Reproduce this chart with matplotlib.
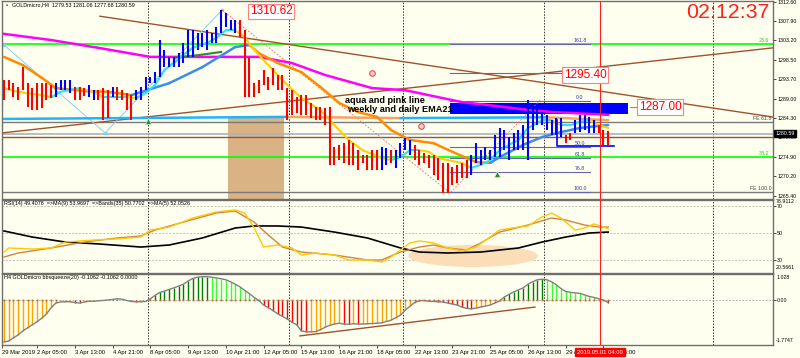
import matplotlib
matplotlib.use("Agg")
import matplotlib.pyplot as plt
from matplotlib.patches import Rectangle, Ellipse

W, H = 800, 358
BG = "#FFFFF0"
plt.rcParams["font.family"] = ["Liberation Sans", "DejaVu Sans"]

# ---------------- data ----------------
bar_high = [1293.6, 1293.6, 1292.9, 1291.9, 1296.7, 1292.9, 1291.6, 1292.9, 1292.9, 1292.9,
            1292.4, 1292.9, 1293.6, 1293.6, 1293.6, 1291.9, 1291.9, 1291.6, 1292.4, 1291.1,
            1291.1, 1291.6, 1291.1, 1291.9, 1291.9, 1291.1, 1290.4, 1289.9, 1291.1, 1291.9,
            1294.3, 1294.3, 1295.5, 1303.3, 1300.9, 1299.2, 1299.2, 1300.2, 1302.6, 1305.7,
            1305.7, 1305.0, 1305.0, 1305.7, 1305.0, 1306.5, 1310.6, 1309.9, 1308.2, 1308.2,
            1308.2, 1305.7, 1299.2, 1292.9, 1293.6, 1296.0, 1294.3, 1296.5, 1294.8, 1294.8,
            1291.6, 1291.1, 1289.4, 1289.9, 1289.9, 1288.0, 1287.0, 1287.0, 1286.8, 1287.0,
            1277.3, 1277.8, 1278.3, 1279.0, 1278.3, 1276.5, 1275.3, 1275.3, 1276.5, 1276.5,
            1277.3, 1277.0, 1276.5, 1276.5, 1278.3, 1279.5, 1279.0, 1277.8, 1276.5, 1275.8,
            1275.3, 1275.3, 1274.6, 1273.4, 1273.4, 1272.4, 1272.9, 1273.4, 1274.1, 1275.3,
            1278.3, 1276.5, 1277.3, 1276.5, 1280.2, 1281.9, 1281.4, 1279.7, 1280.7, 1281.4,
            1282.6, 1288.7, 1288.0, 1286.8, 1285.8, 1285.1, 1283.8, 1284.3, 1284.3, 1280.2,
            1280.7, 1283.8, 1285.1, 1285.1, 1284.6, 1283.8, 1282.6, 1281.4, 1281.06]
bar_low = [1288.7, 1291.1, 1289.4, 1288.7, 1291.1, 1287.0, 1286.3, 1286.3, 1286.8, 1288.7,
           1289.2, 1289.4, 1291.1, 1291.1, 1290.4, 1288.7, 1288.7, 1289.7, 1289.4, 1288.7,
           1288.7, 1283.8, 1284.3, 1289.4, 1288.7, 1288.7, 1286.3, 1283.8, 1288.7, 1288.7,
           1291.1, 1292.9, 1292.9, 1294.3, 1296.7, 1296.7, 1296.7, 1296.7, 1297.7, 1299.2,
           1299.2, 1300.9, 1301.6, 1300.9, 1302.6, 1302.6, 1305.0, 1306.5, 1305.7, 1305.0,
           1304.0, 1289.4, 1289.4, 1289.4, 1290.4, 1292.4, 1291.1, 1292.4, 1291.1, 1291.1,
           1283.8, 1285.1, 1285.5, 1285.1, 1285.1, 1284.3, 1283.8, 1283.8, 1282.6, 1272.9,
           1272.9, 1274.1, 1273.4, 1272.9, 1272.9, 1271.7, 1273.4, 1271.7, 1271.7, 1271.7,
           1271.7, 1272.9, 1273.4, 1272.2, 1274.6, 1276.5, 1275.3, 1274.1, 1272.9, 1273.4,
           1272.2, 1270.5, 1269.2, 1266.1, 1266.1, 1268.0, 1268.5, 1269.7, 1269.7, 1270.5,
           1273.4, 1272.9, 1274.1, 1274.1, 1274.8, 1274.8, 1276.5, 1274.1, 1276.5, 1276.5,
           1276.5, 1274.1, 1281.4, 1282.6, 1282.6, 1281.4, 1280.2, 1280.2, 1279.7, 1278.3,
           1279.0, 1280.7, 1280.9, 1281.4, 1280.7, 1280.7, 1280.7, 1277.8, 1277.68]
bar_dir = ("ddddddddddd" "uuuu" "ddd" "uu" "ddd" "u" "dddd"
           "uuuuuuuuuuuuuuuuuuuuuu"
           "dddddddddddddddddddddddddddddd"
           "uu" "d" "uuuu" "dddddddddddd"
           "uuuuuuuuuuuuuuuuuuuu" "dd" "uuuuu" "ddd")

magenta_idx = [0, 10, 20, 31, 41, 54, 61, 68, 78, 85, 92, 97, 104, 111, 116, 128]
magenta_val = [1304.8, 1303.3, 1301.4, 1299.2, 1299.2, 1299.2, 1297.7, 1294.8, 1291.6,
               1291.1, 1289.4, 1288.2, 1287.3, 1286.3, 1285.8, 1285.1]

fast_idx = [0, 3, 8, 10, 12, 16, 19, 21, 26, 28, 30, 32, 34, 36, 38, 40, 43, 45, 47, 49,
            51, 53, 55, 57, 60, 63, 67, 70, 73, 76, 80, 82, 84, 86, 88, 90, 92, 94, 97, 99,
            101, 103, 105, 107, 109, 111, 114, 116, 118, 120, 122, 124, 126, 128]
fast_val = [1291.6, 1290.7, 1289.9, 1289.4, 1290.7, 1291.6, 1290.7, 1289.4, 1289.4, 1289.2,
            1290.4, 1292.4, 1296.0, 1297.7, 1299.7, 1301.4, 1302.6, 1303.8, 1305.7, 1305.7,
            1304.0, 1300.9, 1298.4, 1296.0, 1292.4, 1289.2, 1286.3, 1282.6, 1279.0, 1276.5,
            1274.6, 1274.1, 1274.8, 1276.5, 1276.5, 1276.1, 1274.6, 1274.1, 1273.4, 1272.2,
            1272.9, 1274.1, 1276.5, 1277.8, 1279.0, 1281.9, 1283.8, 1283.8, 1282.6, 1282.6,
            1283.4, 1283.8, 1282.6, 1281.9]

slow_idx = [0, 4, 8, 11, 17, 22, 27, 35, 42, 49, 52, 54, 58, 63, 67, 71, 75, 79, 82, 86,
            91, 95, 98, 100, 103, 105, 110, 114, 118, 122, 126, 128]
slow_val = [1299.2, 1297.2, 1294.1, 1291.6, 1290.9, 1290.7, 1289.9, 1292.8, 1296.7, 1301.6,
            1302.1, 1300.1, 1297.7, 1295.5, 1291.9, 1288.0, 1285.8, 1284.6, 1281.4, 1279.0,
            1278.2, 1276.1, 1274.6, 1273.6, 1273.4, 1274.8, 1277.8, 1279.7, 1280.9, 1281.9,
            1282.4, 1282.6]

weekly_idx = [0, 60, 84, 115, 128]
weekly_val = [1284.1, 1284.6, 1284.3, 1284.5, 1283.8]

green_idx = [36, 41, 46]
green_val = [1299.0, 1299.6, 1300.4]

hlines_main = {"green_top": 1302.4, "fe618": 1283.36, "grey": 1280.5, "brown": 1279.7,
               "green_382": 1274.84, "fe100": 1266.33}

desc_trend = ([20.3, 162.9], [1309.1, 1284.57])
asc_trend = ([-0.4, 162.9], [1280.7, 1301.4])
zigzag_blue = ([0, 21.4, 46.2], [1302.1, 1280.7, 1310.6])
zigzag_red = ([46.2, 94.5, 113.6], [1310.6, 1266.1, 1288.7])

fibo_levels = ["161.8", "0.0", "50.0", "61.8", "76.8", "100.0"]
fibo_prices = [1302.4, 1288.5, 1277.3, 1274.6, 1271.2, 1266.3]

rsi5_idx = [0, 1, 6, 10, 13, 19, 24, 29, 31, 35, 40, 45, 49, 51, 53, 55, 58, 61, 63, 66,
            70, 73, 77, 80, 82, 84, 86, 88, 91, 94, 97, 100, 103, 105, 109, 111, 114, 116,
            118, 121, 123, 125, 127, 128]
rsi5_val = [35.9, 38.9, 38.1, 38.9, 43.3, 44.8, 45.6, 47.0, 52.2, 54.4, 61.1, 65.6, 67.0,
            64.8, 53.7, 39.6, 41.1, 38.9, 33.7, 35.2, 33.7, 30.0, 30.0, 28.5, 32.2, 37.4,
            42.6, 44.1, 42.6, 38.9, 36.7, 39.6, 47.0, 52.2, 54.4, 55.2, 61.9, 64.8, 61.1,
            52.2, 53.7, 56.7, 54.4, 53.0]
rsi9_idx = [0, 3, 10, 17, 24, 29, 32, 38, 45, 49, 53, 56, 59, 63, 70, 77, 80, 84, 88, 91,
            94, 98, 101, 105, 111, 116, 119, 123, 126, 128]
rsi9_val = [32.2, 35.2, 38.9, 43.3, 46.3, 47.8, 52.2, 58.1, 64.8, 66.3, 58.1, 48.5, 39.6,
            35.9, 33.7, 30.0, 30.0, 35.9, 39.6, 41.1, 38.9, 37.4, 42.6, 50.7, 55.9, 61.1,
            59.6, 55.9, 54.4, 54.4]
bands_idx = [0, 6, 13, 20, 29, 35, 42, 49, 53, 58, 63, 70, 77, 84, 88, 94, 101, 109, 114,
             119, 124, 128]
bands_val = [51.5, 47.0, 43.3, 41.9, 39.6, 41.1, 46.3, 53.7, 55.2, 55.2, 54.4, 50.7, 46.3,
             38.9, 35.9, 35.2, 35.9, 38.9, 43.3, 47.0, 50.0, 50.7]

squeeze = [-1.66, -1.62, -1.50, -1.38, -1.22, -1.10, -0.98, -0.86, -0.72, -0.55,
           -0.30, -0.12, -0.08, -0.07, -0.07, -0.10, -0.12, -0.08, -0.05, -0.05,
           -0.03, -0.02, 0.00, 0.02, 0.05, 0.03, -0.02, -0.06, -0.07, -0.07,
           -0.06, 0.05, 0.18, 0.30, 0.35, 0.42, 0.48, 0.55, 0.62, 0.75,
           0.85, 0.90, 0.92, 0.92, 0.90, 0.87, 0.84, 0.80, 0.72, 0.62,
           0.52, 0.38, 0.25, 0.10, -0.02, -0.20, -0.30, -0.42, -0.55, -0.65,
           -0.75, -0.88, -0.98, -1.22, -1.26, -1.26, -1.25, -1.18, -1.08, -1.00,
           -0.95, -0.92, -0.95, -0.96, -0.94, -0.95, -0.95, -0.94, -0.93, -0.92,
           -0.90, -0.85, -0.80, -0.70, -0.60, -0.40, -0.25, -0.10, -0.03, -0.02,
           -0.05, -0.06, -0.07, -0.08, -0.12, -0.16, -0.20, -0.28, -0.33, -0.35,
           -0.32, -0.28, -0.24, -0.20, -0.12, -0.04, 0.12, 0.22, 0.32, 0.40,
           0.48, 0.62, 0.72, 0.80, 0.82, 0.80, 0.72, 0.60, 0.45, 0.34,
           0.30, 0.28, 0.26, 0.20, 0.14, 0.10, 0.05, 0.00, -0.1062]
squeeze_off = (12, 30)
squeeze_trend = ([62.7, 112.5], [-1.42, -0.28])

price_ticks = [1312.60, 1307.90, 1303.20, 1298.50, 1293.70, 1289.00, 1284.30, 1279.60,
               1274.90, 1270.20, 1265.40]
time_labels = ["29 Mar 2019", "2 Apr 05:00", "3 Apr 13:00", "4 Apr 21:00", "8 Apr 05:00",
               "9 Apr 13:00", "10 Apr 21:00", "12 Apr 05:00", "15 Apr 13:00", "16 Apr 21:00",
               "18 Apr 05:00", "22 Apr 13:00", "23 Apr 21:00", "25 Apr 05:00", "26 Apr 13:00",
               "29 Apr 21:00", "1 May 05:00"]
time_label_bars = [-0.4, 7, 15, 23, 31, 39, 47, 55, 63, 71, 79, 87, 95, 103, 111, 119, 127]
week_separators = [30.5, 60.4, 84.5, 114.4, 150.2]
cursor_bar = 126.3

# ---------------- layout ----------------
BAR_PX = 4.72
X0_PX = 4.0
XMIN = (2 - X0_PX) / BAR_PX
XMAX = (773 - X0_PX) / BAR_PX

fig = plt.figure(figsize=(W / 100, H / 100), dpi=100)
fig.patch.set_facecolor(BG)


def px_axes(x0, y0, x1, y1):
    return fig.add_axes([x0 / W, 1 - y1 / H, (x1 - x0) / W, (y1 - y0) / H])


def ftext(x, y, s, **kw):
    fig.text(x / W, 1 - y / H, s, **kw)


ax1 = px_axes(2, 1, 773, 199)
ax2 = px_axes(2, 200, 773, 273)
ax3 = px_axes(2, 274, 773, 345)

SMALL = 3.8
for ax in (ax1, ax2, ax3):
    ax.set_facecolor(BG)
    ax.set_xlim(XMIN, XMAX)
    ax.yaxis.tick_right()
    ax.tick_params(axis="y", length=2, width=0.5, pad=1, labelsize=SMALL, colors="black")
    ax.tick_params(axis="x", bottom=False, labelbottom=False)
    for s in ax.spines.values():
        s.set_color("#6E6E6E")
        s.set_linewidth(1.0)
    for xs in week_separators:
        ax.axvline(xs, color="#333333", lw=0.7, ls=(0, (1.5, 1.5)), zorder=1)
    ax.axvline(cursor_bar, color="#FF2020", lw=0.8, zorder=6)

idx = list(range(len(bar_high)))


def color_line(ax, xs, ys, up_c, dn_c, lw, z=3):
    for k in range(len(xs) - 1):
        c = up_c if ys[k + 1] >= ys[k] else dn_c
        ax.plot(xs[k:k + 2], ys[k:k + 2], color=c, lw=lw, solid_capstyle="round", zorder=z)


# ---------------- main panel ----------------
ax1.set_ylim(1264.62, 1312.80)
ax1.set_yticks(price_ticks)
ax1.set_yticklabels(["%.2f" % p for p in price_ticks])

ax1.add_patch(Rectangle((47.5, 1260), 11.8, 1284.6 - 1260, fc="#D9B384", ec="none", zorder=1))
ax1.add_patch(Rectangle((94.5, 1285.3), 37.7, 2.7, fc="#0000FF", ec="none", zorder=2))

ax1.axhline(hlines_main["green_top"], color="#00FF00", lw=1.2, zorder=1.5)
ax1.axhline(hlines_main["green_382"], color="#00FF00", lw=1.2, zorder=1.5)
ax1.axhline(hlines_main["fe618"], color="#7A7A7A", lw=1.0, zorder=1.5)
ax1.axhline(hlines_main["grey"], color="#A8B4C4", lw=1.2, zorder=1.5)
ax1.axhline(hlines_main["brown"], color="#A0522D", lw=1.0, zorder=1.5)
ax1.axhline(hlines_main["fe100"], color="#7A7A7A", lw=1.0, zorder=1.5)

ax1.plot(*desc_trend, color="#A0522D", lw=1.0, zorder=2)
ax1.plot(*asc_trend, color="#A0522D", lw=1.0, zorder=2)
ax1.plot(*zigzag_blue, color="#87CEFA", lw=0.7, zorder=2, marker="s", ms=1.5)
ax1.plot(*zigzag_red, color="#FF6060", lw=0.6, ls=(0, (2, 2)), zorder=2)

for lab, p in zip(fibo_levels, fibo_prices):
    ax1.plot([94.5, 124.2], [p, p], color="#6666AA", lw=0.8, zorder=2)
    ax1.text(122.0, p + 0.25, lab, color="#3333AA", fontsize=SMALL, ha="center", va="bottom", zorder=7)
ax1.plot([94.5, 119.0], [1295.4, 1295.4], color="#6666AA", lw=0.8, zorder=2)

color_line(ax1, weekly_idx, weekly_val, "#1EB4FF", "#F4A460", 1.8, z=2.5)
ax1.plot(magenta_idx, magenta_val, color="#FF00FF", lw=1.8, zorder=3)
ax1.plot(green_idx, green_val, color="#2E8B2E", lw=1.5, zorder=3)
color_line(ax1, slow_idx, slow_val, "#3C8CF0", "#FF8C00", 1.8)
color_line(ax1, fast_idx, fast_val, "#22E4FF", "#FFD000", 1.5)

cols = ["#0000FF" if d == "u" else "#FF0000" for d in bar_dir]
ax1.vlines(idx, bar_low, bar_high, colors=cols, lw=1.5, zorder=4)

ax1.plot([117.2, 117.2, 129.2], [1283.8, 1277.5, 1277.5], color="#0000FF", lw=1.2, zorder=5)

ax1.plot([30.5, 104.4], [1283.6, 1270.6], ls="none", marker="^", ms=5, mfc="#2E8B2E",
         mec="#CFEFCF", mew=0.5, zorder=6)
ax1.plot([78.0, 88.3], [1295.3, 1282.4], ls="none", marker="o", ms=4, mfc="#FFD0D0",
         mec="#E05050", mew=0.8, zorder=6)

box = dict(boxstyle="square,pad=0.15", fc="white", ec="#FF8080", lw=0.8)
ax1.text(56.6, 1310.3, "1310.62", color="#FF0000", fontsize=8.5, ha="center", va="center", bbox=box, zorder=8)
ax1.text(123.1, 1294.8, "1295.40", color="#FF0000", fontsize=8.5, ha="center", va="center", bbox=box, zorder=8)
ax1.text(139.0, 1287.0, "1287.00", color="#FF0000", fontsize=8.5, ha="center", va="center", bbox=box, zorder=8)
ax1.plot([132.6, 133.9], [1287.0, 1287.0], color="#FF6060", lw=0.8, zorder=8)

ax1.text(72.3, 1288.6, "aqua and pink line", fontsize=6.6, fontweight="bold", ha="left", va="center", zorder=8)
ax1.text(72.7, 1286.4, "weekly and daily EMA21", fontsize=6.6, fontweight="bold", ha="left", va="center", zorder=8)

ytr = ax1.get_yaxis_transform()
ax1.text(0.995, 1302.5, "23.6", color="#22CC22", fontsize=SMALL, ha="right", va="bottom", transform=ytr)
ax1.text(0.998, 1283.5, "FE 61.8", color="#444444", fontsize=SMALL, ha="right", va="bottom", transform=ytr)
ax1.text(0.995, 1275.0, "38.2", color="#22CC22", fontsize=SMALL, ha="right", va="bottom", transform=ytr)
ax1.text(0.998, 1266.5, "FE 100.0", color="#444444", fontsize=SMALL, ha="right", va="bottom", transform=ytr)
ax1.text(1.003, 1280.59, "1280.59", color="white", fontsize=SMALL, ha="left", va="center", transform=ytr,
         bbox=dict(boxstyle="square,pad=0.2", fc="black", ec="black"), zorder=9, clip_on=False)

# ---------------- RSI panel ----------------
ax2.set_ylim(20.37, 74.44)
ax2.set_yticks([70, 50, 30])
ax2.set_yticklabels(["70", "50", "30"])
for lv in (70, 50, 30):
    ax2.axhline(lv, color="#AAAAAA", lw=0.5, ls=(0, (3, 2)), zorder=1)
ax2.add_patch(Ellipse((99.4, 33.0), 27.5, 16.3, fc="#FBDDB8", ec="none", zorder=1.5))
ax2.plot(bands_idx, bands_val, color="black", lw=1.2, zorder=3)
ax2.plot(rsi9_idx, rsi9_val, color="#CD853F", lw=1.0, zorder=3)
ax2.plot(rsi5_idx, rsi5_val, color="#FFC800", lw=1.0, zorder=3)
ytr2 = ax2.get_yaxis_transform()
ax2.text(1.004, 73.6, "78.9112", fontsize=SMALL, ha="left", va="center", transform=ytr2, clip_on=False)
ax2.text(1.004, 24.2, "20.5661", fontsize=SMALL, ha="left", va="center", transform=ytr2, clip_on=False)

# ---------------- squeeze panel ----------------
ax3.set_ylim(-1.78, 1.027)
ax3.set_yticks([0])
ax3.set_yticklabels(["0.00"])
ax3.axhline(0, color="#9AA0B0", lw=0.6, ls=(0, (2, 2)), zorder=1)
hcols = []
for k, v in enumerate(squeeze):
    prev = squeeze[k - 1] if k > 0 else v
    if v >= 0:
        hcols.append("#007A00" if v >= prev else "#33FF33")
    else:
        hcols.append("#FF0000" if v < prev else "#FFA500")
ax3.vlines(idx, [0] * len(squeeze), squeeze, colors=hcols, lw=1.0, zorder=2)
ax3.plot(idx, squeeze, color="#808080", lw=1.0, zorder=3)
dot_idx = [k for k in idx if not (squeeze_off[0] <= k <= squeeze_off[1])]
ax3.plot(dot_idx, [0] * len(dot_idx), ls="none", marker="s", ms=1.3, mfc="#D2691E", mec="none", zorder=4)
ax3.plot(*squeeze_trend, color="#A0522D", lw=1.0, zorder=4)
ytr3 = ax3.get_yaxis_transform()
ax3.text(1.004, 0.87, "1.028", fontsize=SMALL, ha="left", va="center", transform=ytr3, clip_on=False)
ax3.text(1.004, -1.62, "-1.7747", fontsize=SMALL, ha="left", va="center", transform=ytr3, clip_on=False)

ax3.tick_params(axis="x", bottom=True, labelbottom=True, length=2, width=0.5, pad=1.5,
                labelsize=4.2, colors="black")
ax3.set_xticks(time_label_bars)
ax3.set_xticklabels(time_labels, ha="left")

# ---------------- header texts ----------------
ftext(4, 5, "\u25b2", fontsize=3, color="#4A8A4A", va="center")
ftext(12, 5, "GOLDmicro,H4  1279.53 1281.06 1277.68 1280.59", fontsize=3.9, va="center")
ftext(4, 204, "RSI(14) 49.4078  =>MA(9) 53.9697  =>Bands(35) 50.7702  =>MA(5) 52.0526", fontsize=3.9, va="center")
ftext(4, 278, "H4 GOLDmicro bbsqueeze(20) -0.1062 -0.1062 0.0000", fontsize=3.9, va="center")
ftext(770, 13, "02:12:37", fontsize=15.4, color="#FF2020", ha="right", va="center")
ftext(600, 352, "2019.05.01 04:00", fontsize=4.2, color="white", ha="center", va="center",
      bbox=dict(boxstyle="square,pad=0.3", fc="#FF0000", ec="#FF0000"))

fig.savefig("out.png", dpi=100, facecolor=BG)
